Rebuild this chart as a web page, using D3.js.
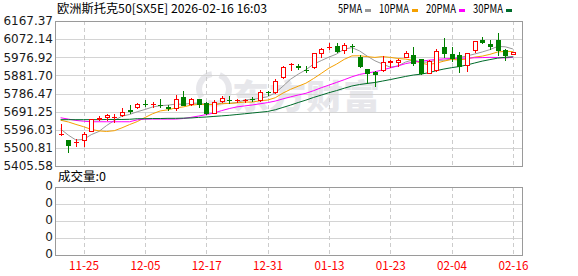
<!DOCTYPE html>
<html>
<head>
<meta charset="utf-8">
<script src="https://cdn.jsdelivr.net/npm/d3@7"></script>
<style>
    body { margin: 0; background: #fff; }
    svg { display: block; }
</style>
</head>
<body>
<svg class="kline"></svg>
<script>
const title = "欧洲斯托克50[SX5E] 2026-02-16 16:03";

const dates = ["11-20","11-21","11-24","11-25","11-26","11-27","11-28","12-01","12-02","12-03",
    "12-04","12-05","12-08","12-09","12-10","12-11","12-12","12-15","12-16","12-17",
    "12-18","12-19","12-22","12-23","12-24","12-29","12-30","12-31","01-02","01-05",
    "01-06","01-07","01-08","01-09","01-12","01-13","01-14","01-15","01-16","01-19",
    "01-20","01-21","01-22","01-23","01-26","01-27","01-28","01-29","01-30","02-02",
    "02-03","02-04","02-05","02-06","02-09","02-10","02-11","02-12","02-13","02-16"];

const open = [5572,5542,5532,5542,5590,5654,5663,5663,5672,5699,
    5717,5732,5729,5727,5713,5709,5767,5730,5756,5738,
    5686,5749,5753,5751,5751,5757,5752,5794,5793,5872,
    5939,5930,5911,5924,6001,6031,6036,6015,6037,5980,
    5914,5898,5910,5953,5954,5977,5989,5966,5896,5910,
    6032,5992,5989,5936,6015,6068,6045,6068,6015,5994];
const high = [5625,5543,5550,5584,5655,5667,5680,5677,5709,5724,
    5737,5752,5740,5756,5726,5779,5800,5765,5758,5742,
    5752,5775,5773,5759,5759,5770,5805,5801,5862,5930,
    5948,5941,5930,6000,6024,6050,6050,6053,6047,5989,
    5916,5903,5984,5962,5968,6010,6029,5968,5960,6020,
    6076,6032,6006,6000,6062,6082,6070,6103,6020,6004];
const low = [5571,5478,5510,5512,5588,5645,5646,5638,5670,5682,
    5710,5722,5717,5714,5700,5700,5724,5728,5714,5680,
    5684,5743,5738,5740,5743,5745,5749,5778,5787,5870,
    5910,5914,5902,5922,5978,6019,6006,5998,6006,5924,
    5844,5828,5906,5927,5931,5977,5936,5889,5893,5905,
    5978,5957,5898,5907,6007,6050,6018,5989,5965,5993];
const close = [5574,5516,5534,5576,5652,5657,5672,5665,5691,5696,
    5730,5730,5731,5725,5711,5756,5726,5756,5730,5683,
    5743,5764,5751,5753,5753,5755,5796,5792,5852,5927,
    5941,5928,5909,5999,6019,6033,6009,6041,6035,5933,
    5896,5887,5954,5955,5962,6001,5945,5893,5956,6011,
    6001,5975,5933,5999,6061,6055,6037,6016,5991,6003];

const ma5 = [5600,5568,5542,5545,5570.4,5587,5618.2,5644.4,5667.4,5676.2,
    5690.8,5702.4,5715.6,5722.4,5725.4,5730.6,5729.8,5734.8,5735.8,5730.2,
    5727.6,5735.2,5734.2,5738.8,5752.8,5755.2,5761.6,5769.8,5789.6,5824.4,
    5861.6,5888,5911.4,5940.8,5959.2,5977.6,5993.8,6020.2,6027.4,6010.2,
    5982.8,5958.4,5941,5925,5930.8,5951.8,5963.4,5951.2,5951.4,5961.2,
    5961.2,5967.2,5975.2,5983.8,5993.8,6004.6,6017,6033.6,6032,6020.4];
const ma10 = [5646,5637,5624,5612,5598,5590,5587,5591,5606,5623.3,
    5638.9,5660.3,5680,5694.9,5700.8,5710.7,5716.1,5725.2,5729.1,5727.8,
    5729.1,5732.5,5734.5,5737.3,5741.5,5741.4,5748.4,5752,5764.2,5788.6,
    5808.4,5824.8,5840.6,5865.2,5891.8,5919.6,5940.9,5965.8,5984.1,5984.7,
    5980.2,5976.1,5980.6,5976.2,5970.5,5967.3,5960.9,5946.1,5938.2,5946,
    5956.5,5965.3,5963.2,5967.6,5977.5,5982.9,5992.1,6004.4,6007.9,6007.1];
const ma20 = [5659,5652,5645,5641,5638,5638,5638,5638,5638,5638,
    5648,5652,5652,5652,5652,5652,5655,5661,5668,5675.6,
    5684,5696.4,5707.3,5716.1,5721.2,5726.1,5732.3,5738.6,5746.7,5758.2,
    5768.8,5778.7,5787.6,5801.3,5816.7,5830.5,5844.7,5858.9,5874.2,5886.7,
    5894.3,5900.5,5910.6,5920.7,5931.2,5943.5,5950.9,5956,5961.2,5965.4,
    5968.4,5970.7,5971.9,5971.9,5974,5975.1,5976.5,5975.3,5973.1,5976.6];
const ma30 = [5649,5649,5649,5649,5649,5649,5650,5650,5650,5651,
    5654,5654,5655,5655,5656,5656,5657,5658,5661,5663,
    5666,5669,5672,5676,5680,5684,5688,5692,5701,5713.2,
    5725.5,5739.2,5751.7,5765.8,5778,5790.6,5801.8,5814.3,5825.8,5833.7,
    5839.2,5844.5,5851.9,5859.6,5867.9,5876.1,5883.4,5888,5895.5,5906.4,
    5915,5922.1,5928.1,5936.3,5946.6,5956.6,5964.6,5972.1,5976.7,5979.3];

const priceTicks = [6167.37,6072.14,5976.92,5881.70,5786.47,5691.25,5596.03,5500.81,5405.58];
const dateTicks = ["11-25","12-05","12-17","12-31","01-13","01-23","02-04","02-16"];
const volTicks = [0,1,2,3,4];
const volTickLabels = ["0","0","0","0","0"];
const volLabel = "成交量:0";
const maNames = ["5PMA","10PMA","20PMA","30PMA"];
const maColors = ["#999999","#f5a000","#ff00ff","#006b2b"];
const watermark = "东方财富";

// SimSun style widths: half width 6px, full width 12px
function simsunWidth(s) {
    let w = 0;
    for (const ch of s) w += ch.charCodeAt(0) > 255 ? 12 : 6;
    return w;
}

function drawChart() {
    const width = 578, height = 276;
    const main = {left: 55, right: 522, top: 21, bottom: 166};
    const vol = {top: 187, bottom: 255};
    const cjk = "'Noto Sans CJK SC', sans-serif";
    const num = "'DejaVu Sans', Verdana, sans-serif";

    const svg = d3.select(".kline")
        .attr("width", width)
        .attr("height", height);

    const x = d3.scalePoint()
        .domain(dates)
        .range([60.6, 512.9]);

    const y = d3.scaleLinear()
        .domain([priceTicks[priceTicks.length - 1], priceTicks[0]])
        .range([main.bottom, main.top]);

    const yVol = d3.scaleLinear()
        .domain([0, 4])
        .range([vol.bottom, vol.top]);

    // watermark
    const wm = svg.append("g").attr("fill", "#e7e7eb");
    wm.append("circle")
        .attr("cx", 214).attr("cy", 89).attr("r", 15)
        .attr("fill", "none")
        .attr("stroke", "#e7e7eb")
        .attr("stroke-width", 6)
        .attr("stroke-dasharray", "30 8");
    wm.append("text")
        .attr("x", 232)
        .attr("y", 109)
        .attr("textLength", 148)
        .attr("lengthAdjust", "spacingAndGlyphs")
        .style("font-family", cjk)
        .style("font-size", "34px")
        .style("font-weight", "900")
        .text(watermark);

    // horizontal grid
    svg.append("g")
        .attr("transform", `translate(${main.left},0)`)
        .call(d3.axisLeft(y).tickValues(priceTicks).tickSize(-(main.right - main.left)).tickFormat(""))
        .call(g => g.select(".domain").remove())
        .call(g => g.selectAll("line").attr("stroke", "#d4d4d4").attr("shape-rendering", "crispEdges"));

    svg.append("g")
        .attr("transform", `translate(${main.left},0)`)
        .call(d3.axisLeft(yVol).tickValues(volTicks).tickSize(-(main.right - main.left)).tickFormat(""))
        .call(g => g.select(".domain").remove())
        .call(g => g.selectAll("line").attr("stroke", "#d4d4d4").attr("shape-rendering", "crispEdges"));

    // vertical dashed grid
    const vgrid = svg.append("g")
        .attr("stroke", "#cccccc")
        .attr("stroke-dasharray", "4,3")
        .attr("shape-rendering", "crispEdges");
    dateTicks.forEach(d => {
        const gx = Math.round(x(d)) + 0.5;
        vgrid.append("line").attr("x1", gx).attr("x2", gx).attr("y1", main.top).attr("y2", main.bottom);
        vgrid.append("line").attr("x1", gx).attr("x2", gx).attr("y1", vol.top).attr("y2", vol.bottom);
    });

    // panel borders
    [[main.top, main.bottom], [vol.top, vol.bottom]].forEach(p => {
        svg.append("rect")
            .attr("x", main.left + 0.5)
            .attr("y", p[0] + 0.5)
            .attr("width", main.right - main.left)
            .attr("height", p[1] - p[0])
            .attr("fill", "none")
            .attr("stroke", "#9a9a9a")
            .attr("shape-rendering", "crispEdges");
    });

    // MA lines
    const maSeries = [ma5, ma10, ma20, ma30];
    maSeries.forEach((s, k) => {
        const line = d3.line()
            .x((v, i) => x(dates[i]))
            .y(v => y(v));
        svg.append("path")
            .datum(s)
            .attr("fill", "none")
            .attr("stroke", maColors[k])
            .attr("stroke-width", 1)
            .attr("d", line);
    });

    // candles
    const candles = svg.append("g").attr("shape-rendering", "crispEdges");
    dates.forEach((d, i) => {
        const up = close[i] >= open[i];
        const color = up ? "#ff0000" : "#008000";
        const cx = Math.round(x(d));
        const top = Math.round(y(Math.max(open[i], close[i])));
        const bot = Math.round(y(Math.min(open[i], close[i])));

        candles.append("line")
            .attr("x1", cx + 0.5).attr("x2", cx + 0.5)
            .attr("y1", Math.round(y(high[i]))).attr("y2", Math.round(y(low[i])) + 1)
            .attr("stroke", color);

        if (bot - top < 1) {
            candles.append("line")
                .attr("x1", cx - 2).attr("x2", cx + 3)
                .attr("y1", top + 0.5).attr("y2", top + 0.5)
                .attr("stroke", color);
        } else {
            candles.append("rect")
                .attr("x", cx - 1.5)
                .attr("y", top + 0.5)
                .attr("width", 4)
                .attr("height", bot - top)
                .attr("fill", up ? "#ffffff" : color)
                .attr("stroke", color);
        }
    });

    // price labels
    svg.append("g")
        .selectAll("text")
        .data(priceTicks)
        .enter().append("text")
        .attr("x", 53)
        .attr("y", v => y(v))
        .attr("dy", "0.36em")
        .attr("text-anchor", "end")
        .style("font-family", num)
        .style("font-size", "12px")
        .style("fill", "#1a1a1a")
        .text(v => v.toFixed(2));

    // volume labels
    svg.append("g")
        .selectAll("text")
        .data(volTicks)
        .enter().append("text")
        .attr("x", 53)
        .attr("y", v => yVol(v) - 1)
        .attr("dy", "0.36em")
        .attr("text-anchor", "end")
        .style("font-family", num)
        .style("font-size", "12px")
        .style("fill", "#1a1a1a")
        .text((v, i) => volTickLabels[i]);

    // date labels
    svg.append("g")
        .selectAll("text")
        .data(dateTicks)
        .enter().append("text")
        .attr("x", d => x(d) + 0.5)
        .attr("y", 270)
        .attr("text-anchor", "middle")
        .attr("textLength", d => simsunWidth(d))
        .attr("lengthAdjust", "spacingAndGlyphs")
        .style("font-family", cjk)
        .style("font-size", "12px")
        .style("fill", "#ff0000")
        .text(d => d);

    // title
    svg.append("text")
        .attr("x", 57)
        .attr("y", 13)
        .attr("textLength", simsunWidth(title))
        .attr("lengthAdjust", "spacingAndGlyphs")
        .style("font-family", cjk)
        .style("font-size", "12px")
        .style("fill", "#000")
        .text(title);

    svg.append("text")
        .attr("x", 58)
        .attr("y", 181)
        .attr("textLength", simsunWidth(volLabel))
        .attr("lengthAdjust", "spacingAndGlyphs")
        .style("font-family", cjk)
        .style("font-size", "12px")
        .style("fill", "#000")
        .text(volLabel);

    // legend
    let lx = 338;
    maNames.forEach((name, k) => {
        const tw = simsunWidth(name);
        svg.append("text")
            .attr("x", lx)
            .attr("y", 13)
            .attr("textLength", tw)
            .attr("lengthAdjust", "spacingAndGlyphs")
            .style("font-family", cjk)
            .style("font-size", "12px")
            .style("fill", "#000")
            .text(name);
        svg.append("rect")
            .attr("x", lx + tw + 3)
            .attr("y", 9)
            .attr("width", 6)
            .attr("height", 3)
            .attr("fill", maColors[k]);
        lx += tw + 3 + 6 + 8;
    });
}

document.addEventListener('DOMContentLoaded', drawChart);
</script>
</body>
</html>
